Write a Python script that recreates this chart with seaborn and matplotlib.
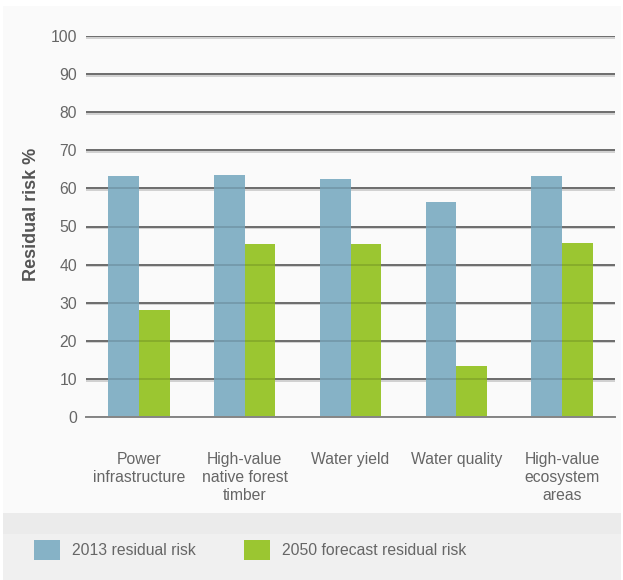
import matplotlib
matplotlib.use("Agg")
import matplotlib.pyplot as plt
import matplotlib.patheffects as pe
from matplotlib.patches import Rectangle, Patch
import pandas as pd
import seaborn as sns

# Chart data
categories = [
    "Power\ninfrastructure",
    "High-value\nnative forest\ntimber",
    "Water yield",
    "Water quality",
    "High-value\necosystem\nareas",
]
series_names = ["2013 residual risk", "2050 forecast residual risk"]
risk_2013 = [63.3, 63.5, 62.4, 56.5, 63.3]
risk_2050 = [28.2, 45.5, 45.5, 13.4, 45.6]
y_ticks = list(range(0, 101, 10))

BLUE = "#86b2c6"
GREEN = "#9bc631"
TEXT = "#666666"

df = pd.DataFrame({
    "category": categories * 2,
    "scenario": [series_names[0]] * len(categories) + [series_names[1]] * len(categories),
    "risk": risk_2013 + risk_2050,
})

sns.set_theme(style="white")
plt.rcParams["font.family"] = ["Liberation Sans", "DejaVu Sans"]

W, H = 623, 580
fig = plt.figure(figsize=(W / 100, H / 100), dpi=100, facecolor="white")

# background panels
fig.patches.append(Rectangle((3 / W, 1 - 513 / H), 618 / W, 507 / H,
                             transform=fig.transFigure, facecolor="#fafafa",
                             edgecolor="none", zorder=-10))
fig.patches.append(Rectangle((3 / W, 1 - 534 / H), 618 / W, 21 / H,
                             transform=fig.transFigure, facecolor="#ebebeb",
                             edgecolor="none", zorder=-10))
fig.patches.append(Rectangle((3 / W, 0), 618 / W, 1 - 534 / H,
                             transform=fig.transFigure, facecolor="#f0f0f0",
                             edgecolor="none", zorder=-10))

ax = fig.add_axes([86 / W, 1 - 417 / H, 529 / W, 381 / H])
ax.set_facecolor("none")

sns.barplot(data=df, x="category", y="risk", hue="scenario",
            palette=[BLUE, GREEN], width=0.58, gap=0, saturation=1,
            linewidth=0, legend=False, ax=ax, zorder=2)

ax.set_ylim(0, 100)
ax.set_xlim(-0.5, len(categories) - 0.5)
ax.set_yticks(y_ticks)
ax.set_axisbelow(True)
ax.yaxis.grid(True, color="#7c7c7c", lw=1.4,
              path_effects=[pe.SimpleLineShadow(offset=(0, -1.2), shadow_color="#d0d0d0", alpha=1),
                            pe.Normal()])
ax.xaxis.grid(False)

# grid lines also faintly visible across the bars
for y in y_ticks[1:]:
    ax.axhline(y, color="black", alpha=0.13, lw=1.4, zorder=3)

for side in ["top", "right", "left"]:
    ax.spines[side].set_visible(False)
ax.spines["bottom"].set_color("#858585")
ax.spines["bottom"].set_linewidth(1.4)
ax.spines["bottom"].set_zorder(4)

ax.tick_params(axis="y", length=0, pad=6.5, labelsize=11.3, labelcolor=TEXT)
ax.tick_params(axis="x", length=11.5, width=1.3, color="#8a8a8a", pad=13.5,
               labelsize=11.3, labelcolor=TEXT)
for lab in ax.get_xticklabels():
    lab.set_linespacing(1.27)

ax.set_xlabel("")
ax.set_ylabel("Residual risk %", fontsize=13, fontweight="bold", color="#555555")
ax.yaxis.set_label_coords(-0.087, 0.533)

handles = [Patch(facecolor=BLUE, edgecolor="none"), Patch(facecolor=GREEN, edgecolor="none")]
fig.legend(handles, series_names, loc="center left",
           bbox_to_anchor=(34 / W, 1 - 550 / H), ncol=2, frameon=False,
           fontsize=11.3, labelcolor=TEXT, handlelength=1.66, handleheight=1.66,
           handletextpad=0.76, columnspacing=3.1, borderpad=0, borderaxespad=0)

fig.savefig("out.png", dpi=100, facecolor="white")
